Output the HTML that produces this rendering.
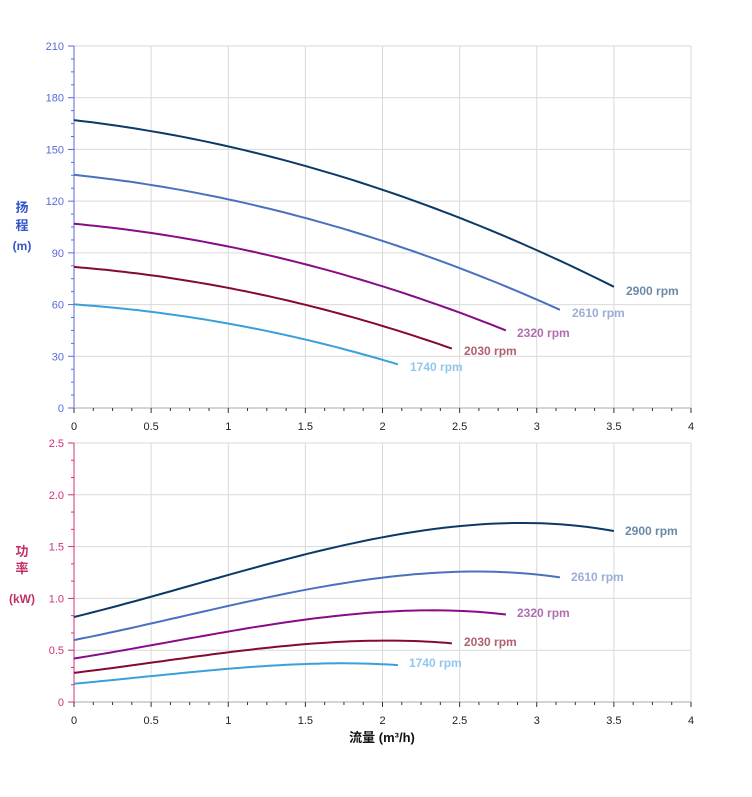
<!DOCTYPE html><html><head><meta charset="utf-8"><style>body{margin:0;background:#fff}svg{display:block;font-family:"Liberation Sans","Noto Sans CJK SC",sans-serif}</style></head><body>
<svg id="s" width="752" height="797" xmlns="http://www.w3.org/2000/svg"></svg>
<script>
const s=document.getElementById('s');let h='';
const X=q=>74+154.25*q, YH=v=>408-1.7238*v, YP=v=>702-103.6*v;
for(let i=0;i<=8;i++){const x=X(i*0.5);h+=`<line x1="${x}" y1="46" x2="${x}" y2="408" stroke="#d9d9d9"/><line x1="${x}" y1="443" x2="${x}" y2="702" stroke="#d9d9d9"/>`;}
for(let v=30;v<=210;v+=30)h+=`<line x1="74" x2="691" y1="${YH(v)}" y2="${YH(v)}" stroke="#d9d9d9"/>`;
for(let v=0.5;v<=2.51;v+=0.5)h+=`<line x1="74" x2="691" y1="${YP(v)}" y2="${YP(v)}" stroke="#d9d9d9"/>`;
h+=`<line x1="74" y1="46" x2="74" y2="408" stroke="#5a6adc"/><line x1="74" y1="443" x2="74" y2="702" stroke="#d0307a"/>`;
h+=`<line x1="74" y1="408" x2="691" y2="408" stroke="#aaa"/><line x1="74" y1="702" x2="691" y2="702" stroke="#aaa"/>`;
for(let i=0;i<=28;i++){const v=i*7.5,y=YH(v),maj=i%4==0;h+=`<line x1="${maj?68:71}" x2="74" y1="${y}" y2="${y}" stroke="#5a6adc"/>`;if(maj)h+=`<text x="64" y="${y+4}" font-size="11" fill="#5a6adc" text-anchor="end">${v}</text>`;}
for(let i=0;i<=15;i++){const v=i/6,y=YP(v),maj=i%3==0;h+=`<line x1="${maj?68:71}" x2="74" y1="${y}" y2="${y}" stroke="#d0307a"/>`;if(maj)h+=`<text x="64" y="${y+4}" font-size="11" fill="#d0307a" text-anchor="end">${i==0?'0':v.toFixed(1)}</text>`;}
for(let i=0;i<=32;i++){const x=X(i/8),maj=i%4==0;for(const y0 of[408,702])h+=`<line x1="${x}" x2="${x}" y1="${y0}" y2="${y0+(maj?5:3)}" stroke="#333"/>`;if(maj){const t=(i/8).toString();for(const y0 of[408,702])h+=`<text x="${x}" y="${y0+22}" font-size="11" fill="#222" text-anchor="middle">${t}</text>`;}}
const S=[[1,'#0b3a66','#6a8aa8',3.5,626,291,625,531,'2900'],[.9,'#4a70c0','#9aaed8',3.15,572,313,571,577,'2610'],[.8,'#880c88','#b070b0',2.8,517,333,517,613,'2320'],[.7,'#850a2e','#b06070',2.45,464,351,464,642,'2030'],[.6,'#3aa0dc','#90c8ec',2.1,410,367,409,663,'1740']];
for(const [r,c,lc,e,tx,ty,bx,by,n] of S){let p1='',p2='';for(let k=0;k<=60;k++){const q=e*k/60;const hv=r*r*167-10.3*r*q-4.95*q*q;const pv=r*r*r*0.82+0.365*r*r*q+0.072*r*q*q-0.031*q*q*q;p1+=(k?'L':'M')+X(q).toFixed(1)+','+YH(hv).toFixed(1);p2+=(k?'L':'M')+X(q).toFixed(1)+','+YP(pv).toFixed(1);}
h+=`<path d="${p1}" fill="none" stroke="${c}" stroke-width="2"/><path d="${p2}" fill="none" stroke="${c}" stroke-width="2"/>`;
h+=`<text x="${tx}" y="${ty+4}" font-size="12" font-weight="bold" fill="${lc}">${n} rpm</text><text x="${bx}" y="${by+4}" font-size="12" font-weight="bold" fill="${lc}">${n} rpm</text>`;}
h+=`<g font-size="13" font-weight="bold" fill="#3355cc" text-anchor="middle"><text x="22" y="212">扬</text><text x="22" y="230">程</text><text x="22" y="250" font-size="12">(m)</text></g>`;
h+=`<g font-size="13" font-weight="bold" fill="#c0306a" text-anchor="middle"><text x="22" y="556">功</text><text x="22" y="573">率</text><text x="22" y="603" font-size="12">(kW)</text></g>`;
h+=`<text x="382" y="742" font-size="13" font-weight="bold" fill="#111" text-anchor="middle">流量 (m³/h)</text>`;
s.innerHTML=h;
</script></body></html>
